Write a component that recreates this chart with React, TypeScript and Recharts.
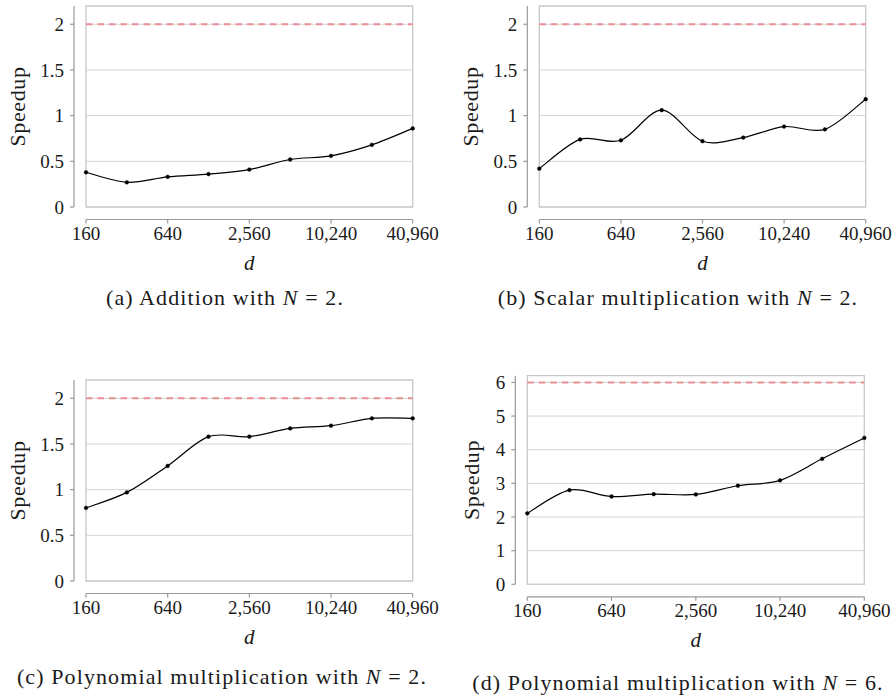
import React from 'react';
import { LineChart, Line, XAxis, YAxis, ReferenceLine, ReferenceArea } from 'recharts';

// ---- data ----
const dValues = [160, 320, 640, 1280, 2560, 5120, 10240, 20480, 40960];
const additionN2 = [0.38, 0.27, 0.33, 0.36, 0.41, 0.52, 0.56, 0.68, 0.86];
const scalarMulN2 = [0.42, 0.74, 0.73, 1.06, 0.72, 0.76, 0.88, 0.85, 1.18];
const polyMulN2 = [0.8, 0.97, 1.26, 1.58, 1.58, 1.67, 1.7, 1.78, 1.78];
const polyMulN6 = [2.11, 2.8, 2.61, 2.68, 2.67, 2.93, 3.09, 3.73, 4.35];
const yTicksN2 = [0, 0.5, 1, 1.5, 2];
const yTicksN6 = [0, 1, 2, 3, 4, 5, 6];
const yMaxN2 = 2.2;
const yMaxN6 = 6.2;
const idealN2 = 2;
const idealN6 = 6;
const captionLabels = ['(a) Addition with ', '(b) Scalar multiplication with ', '(c) Polynomial multiplication with ', '(d) Polynomial multiplication with '];
const captionN = [2, 2, 2, 6];

const FONT = '"Liberation Serif", "Times New Roman", serif';
const TEXT = '#1a1a1a';
const AXIS = '#9a9a9a';
const GRID = '#d3d3d3';
const Y_GAP = 12; // y axis drawn detached to the left of the plot box
const X_GAP = 12.5; // x axis drawn detached below the plot box
const Y_W = 62;
const X_H = 50;

// pgfplots-like smooth curve (cardinal spline through the points)
function pgfSmooth(context: any) {
  let pts: number[][] = [];
  const k = 0.16;
  return {
    areaStart() {},
    areaEnd() {},
    lineStart() {
      pts = [];
    },
    point(x: number, y: number) {
      pts.push([+x, +y]);
    },
    lineEnd() {
      const n = pts.length;
      if (!n) return;
      context.moveTo(pts[0][0], pts[0][1]);
      for (let i = 0; i < n - 1; i++) {
        const p0 = pts[i - 1] || pts[i];
        const p1 = pts[i];
        const p2 = pts[i + 1];
        const p3 = pts[i + 2] || p2;
        context.bezierCurveTo(
          p1[0] + k * (p2[0] - p0[0]),
          p1[1] + k * (p2[1] - p0[1]),
          p2[0] - k * (p3[0] - p1[0]),
          p2[1] - k * (p3[1] - p1[1]),
          p2[0],
          p2[1]
        );
      }
    },
  };
}

type Margin = { top: number; right: number; bottom: number; left: number };
type Frame = { x: number; y: number; w: number; h: number; margin: Margin; yLabelOffset: number };

const hiddenAxisProps = { tick: false, axisLine: false, tickLine: false } as const;
const tickStyle = { fill: TEXT, fontSize: 19, fontFamily: FONT };

function Panel({ values, ideal, yTicks, yMax, frame }: { values: number[]; ideal: number; yTicks: number[]; yMax: number; frame: Frame }) {
  const data = dValues.map((d, i) => ({ d, speedup: values[i] }));
  const m = frame.margin;
  const layer: React.CSSProperties = { position: 'absolute', left: 0, top: 0 };
  return (
    <div style={{ position: 'absolute', left: frame.x, top: frame.y, width: frame.w, height: frame.h }}>
      {/* plot box, grid, ideal speedup and the measured series */}
      <div style={layer}>
        <LineChart width={frame.w} height={frame.h} data={data} margin={m} style={{ fontFamily: FONT }}>
          <XAxis dataKey="d" height={X_H} {...hiddenAxisProps} />
          <YAxis domain={[0, yMax]} ticks={yTicks} width={Y_W} {...hiddenAxisProps} />
          {yTicks.map((t) => (
            <ReferenceLine key={t} y={t} stroke={GRID} strokeWidth={1} />
          ))}
          <ReferenceArea x1={dValues[0]} x2={dValues[dValues.length - 1]} y1={0} y2={yMax} fill="none" fillOpacity={0} stroke="#c8c8c8" strokeWidth={1.3} />
          <ReferenceLine y={ideal} stroke="#ea8f93" strokeWidth={2} strokeDasharray="6.5 5" />
          <Line
            type={pgfSmooth as any}
            dataKey="speedup"
            stroke="#000"
            strokeWidth={1.2}
            dot={{ r: 1.9, fill: '#000', stroke: '#000', strokeWidth: 0.4 }}
            activeDot={false}
            isAnimationActive={false}
          />
        </LineChart>
      </div>
      {/* detached y axis */}
      <div style={layer}>
        <LineChart width={frame.w} height={frame.h} data={data} margin={{ ...m, left: m.left - Y_GAP, right: m.right + Y_GAP }} style={{ fontFamily: FONT }}>
          <XAxis dataKey="d" height={X_H} {...hiddenAxisProps} />
          <YAxis
            domain={[0, yMax]}
            ticks={yTicks}
            width={Y_W}
            tickSize={4}
            tickMargin={6}
            axisLine={{ stroke: AXIS, strokeWidth: 1.2 }}
            tickLine={{ stroke: AXIS, strokeWidth: 1.2 }}
            tick={tickStyle}
            label={{ value: 'Speedup', angle: -90, position: 'insideLeft', offset: frame.yLabelOffset, style: { textAnchor: 'middle', letterSpacing: '0.6px' }, fontSize: 22, fill: TEXT, fontFamily: FONT }}
          />
          <Line dataKey="speedup" stroke="none" dot={false} activeDot={false} isAnimationActive={false} />
        </LineChart>
      </div>
      {/* detached x axis */}
      <div style={layer}>
        <LineChart width={frame.w} height={frame.h} data={data} margin={{ ...m, top: m.top + X_GAP, bottom: m.bottom - X_GAP }} style={{ fontFamily: FONT }}>
          <XAxis
            dataKey="d"
            interval={1}
            tickFormatter={(v: any) => Number(v).toLocaleString('en-US')}
            tickSize={4}
            tickMargin={3}
            height={X_H}
            axisLine={{ stroke: AXIS, strokeWidth: 1.2 }}
            tickLine={{ stroke: AXIS, strokeWidth: 1.2 }}
            tick={tickStyle}
            label={{ value: 'd', position: 'insideBottom', offset: 0, fontStyle: 'italic', fontSize: 21, fill: TEXT, fontFamily: FONT }}
          />
          <YAxis domain={[0, yMax]} width={Y_W} {...hiddenAxisProps} />
          <Line dataKey="speedup" stroke="none" dot={false} activeDot={false} isAnimationActive={false} />
        </LineChart>
      </div>
    </div>
  );
}

const frames: Frame[] = [
  { x: 0, y: 0, w: 445, h: 290, margin: { top: 6, left: 24, right: 32.3, bottom: 33 }, yLabelOffset: 5 },
  { x: 445, y: 0, w: 448, h: 290, margin: { top: 6, left: 32.3, right: 27.3, bottom: 33 }, yLabelOffset: 5 },
  { x: 0, y: 350, w: 445, h: 310, margin: { top: 30, left: 24, right: 32.3, bottom: 29 }, yLabelOffset: 5 },
  { x: 445, y: 350, w: 448, h: 310, margin: { top: 25.7, left: 20.3, right: 28.7, bottom: 25.7 }, yLabelOffset: 18 },
];

const captionPos = [
  { x: 225, y: 305 },
  { x: 678, y: 305 },
  { x: 222, y: 684 },
  { x: 678, y: 690 },
];

export default function App() {
  return (
    <div style={{ position: 'absolute', left: 0, top: 0, width: 893, height: 697, background: '#fff' }}>
      <Panel values={additionN2} ideal={idealN2} yTicks={yTicksN2} yMax={yMaxN2} frame={frames[0]} />
      <Panel values={scalarMulN2} ideal={idealN2} yTicks={yTicksN2} yMax={yMaxN2} frame={frames[1]} />
      <Panel values={polyMulN2} ideal={idealN2} yTicks={yTicksN2} yMax={yMaxN2} frame={frames[2]} />
      <Panel values={polyMulN6} ideal={idealN6} yTicks={yTicksN6} yMax={yMaxN6} frame={frames[3]} />
      <svg width={893} height={697} style={{ position: 'absolute', left: 0, top: 0, pointerEvents: 'none' }}>
        {captionLabels.map((c, i) => (
          <text key={i} x={captionPos[i].x} y={captionPos[i].y} textAnchor="middle" fontFamily={FONT} fontSize={22} letterSpacing={1.1} fill={TEXT}>
            {c}
            <tspan fontStyle="italic">N</tspan>
            {` = ${captionN[i]}.`}
          </text>
        ))}
      </svg>
    </div>
  );
}
